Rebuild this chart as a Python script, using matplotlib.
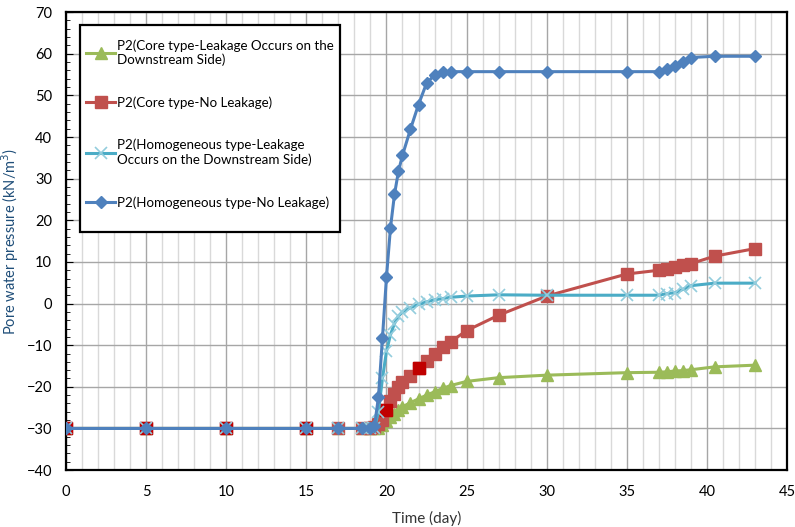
import numpy as np
import matplotlib
matplotlib.use("Agg")
import matplotlib.pyplot as plt
from matplotlib.ticker import MultipleLocator
from matplotlib.patches import Rectangle

plt.rcParams['font.family'] = ['Lato', 'DejaVu Sans']

# time points shared by all series (day)
days = [0, 5, 10, 15, 17, 18.5, 19, 19.25, 19.5, 19.75, 20, 20.25, 20.5, 20.75, 21,
        21.5, 22, 22.5, 23, 23.5, 24, 25, 27, 30, 35, 37, 37.5, 38, 38.5, 39, 40.5, 43]

core_leak = [-30, -30, -30, -30, -30, -30, -30, -30, -29.8, -29.2, -28.3, -27.3, -26.5,
             -25.6, -24.8, -23.8, -22.9, -22.0, -21.2, -20.4, -19.7, -18.7, -17.8, -17.2,
             -16.6, -16.5, -16.4, -16.2, -16.1, -15.9, -15.2, -14.8]
core_noleak = [-30, -30, -30, -30, -30, -30, -30, -29.6, -29.0, -28.0, -25.5, -23.5, -21.7,
               -20.0, -18.8, -17.3, -15.5, -13.8, -12.0, -10.4, -9.2, -6.5, -2.8, 1.8,
               7.1, 8.0, 8.3, 8.7, 9.2, 9.6, 11.4, 13.2]
homo_leak = [-30, -30, -30, -30, -30, -30, -30, -30, -26.0, -18.0, -11.5, -7.5, -4.8,
             -3.0, -2.0, -1.0, -0.2, 0.4, 0.9, 1.2, 1.5, 1.8, 2.1, 2.0,
             2.0, 2.0, 2.4, 2.6, 3.4, 4.3, 4.9, 4.9]
homo_noleak = [-30, -30, -30, -30, -30, -30, -30, -29.5, -22.5, -8.3, 6.3, 18.2, 26.2,
               31.8, 35.6, 41.9, 47.8, 52.9, 54.9, 55.6, 55.7, 55.7, 55.7, 55.7,
               55.7, 55.7, 56.3, 57.1, 58.1, 59.1, 59.4, 59.4]

# points of the core/no leakage series drawn in darker red
dark_days = [0, 5, 10, 15, 20, 22]

labels = ["P2(Core type-Leakage Occurs on the\nDownstream Side)",
          "P2(Core type-No Leakage)",
          "P2(Homogeneous type-Leakage\nOccurs on the Downstream Side)",
          "P2(Homogeneous type-No Leakage)"]

fig = plt.figure(figsize=(7.95, 5.27), dpi=100)
ax = fig.add_axes([0.083, 0.108, 0.907, 0.869])

l1, = ax.plot(days, core_leak, color='#9BBB59', lw=2.2, marker='^', ms=8,
              mec='#9BBB59', mfc='#9BBB59', zorder=3)
l2, = ax.plot(days, core_noleak, color='#C0504D', lw=2.2, marker='s', ms=8,
              mec='#C0504D', mfc='#C0504D', zorder=4)
dk = [core_noleak[days.index(d)] for d in dark_days]
ax.plot(dark_days, dk, ls='none', marker='s', ms=8, mfc='#C00000', mec='#C00000', zorder=4.5)
l3, = ax.plot(days, homo_leak, color='#4BACC6', lw=2.2, marker='x', ms=8, mew=1.2,
              mec='#93CDDD', zorder=5)
l4, = ax.plot(days, homo_noleak, color='#4F81BD', lw=2.2, marker='D', ms=6.5,
              mec='#4F81BD', mfc='#4F81BD', zorder=6)

ax.set_xlim(0, 45)
ax.set_ylim(-40, 70)
ax.xaxis.set_major_locator(MultipleLocator(5))
ax.xaxis.set_minor_locator(MultipleLocator(1))
ax.yaxis.set_major_locator(MultipleLocator(10))
ax.yaxis.set_minor_locator(MultipleLocator(2))
ax.grid(which='minor', axis='x', color='#D9D9D9', lw=1.0)
ax.grid(which='major', axis='x', color='#A6A6A6', lw=1.0)
ax.grid(which='major', axis='y', color='#A6A6A6', lw=1.0)
ax.set_axisbelow(True)
ax.tick_params(axis='x', which='both', length=0, pad=11, labelsize=10.5)
ax.tick_params(axis='y', which='major', direction='in', length=5, labelsize=10.5, pad=10)
ax.tick_params(axis='y', which='minor', direction='in', length=3)
for s in ax.spines.values():
    s.set_color('black')
    s.set_linewidth(1.6)

ax.set_xlabel('Time (day)', fontsize=11, color='#333333', labelpad=8)
ax.set_ylabel('Pore water pressure (kN/m$^3$)', fontsize=10.5, color='#1F4E79')
ax.yaxis.set_label_coords(-0.062, 0.5)

# legend box drawn by hand (taller than its entries, as in the original)
box = Rectangle((0.0194, 0.5197), 0.3606, 0.4519, transform=ax.transAxes,
                facecolor='white', edgecolor='black', lw=1.6, zorder=9)
ax.add_patch(box)
leg = ax.legend([l1, l2, l3, l4], labels, loc='upper left',
                bbox_to_anchor=(0.0277, 0.941), fontsize=9.6, frameon=False,
                labelspacing=2.25, handlelength=2.2, handletextpad=0.1,
                borderpad=0, borderaxespad=0)
leg.set_zorder(10)

fig.savefig('out.png', dpi=100)
